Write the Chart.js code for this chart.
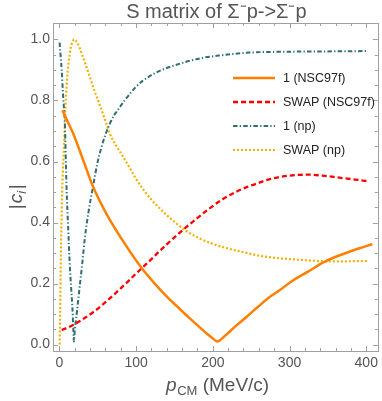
<!DOCTYPE html>
<html><head><meta charset="utf-8">
<script src="https://cdn.jsdelivr.net/npm/chart.js@4.4.1/dist/chart.umd.min.js"></script>
<style>html,body{margin:0;padding:0;background:#fff;}#wrap{width:382px;height:401px;position:relative}</style>
</head><body><div id="wrap"><canvas id="c" width="382" height="401"></canvas></div>
<script>
const titleText = 'S matrix of \u03A3\u207Bp->\u03A3\u207Bp';
const xTickValues = [0, 100, 200, 300, 400];
const yTickValues = [0, 0.2, 0.4, 0.6, 0.8, 1.0];
const seriesLabels = ['1 (NSC97f)', 'SWAP (NSC97f)', '1 (np)', 'SWAP (np)'];

const xOneNSC = [4, 10, 18, 31, 44, 61, 82, 106, 126, 143, 156, 170, 182, 194, 200, 204, 206, 208, 212, 220, 229, 245, 259, 272, 287, 302, 324, 346, 370, 390, 408];
const yOneNSC = [0.768, 0.735, 0.692, 0.605, 0.517, 0.430, 0.343, 0.255, 0.195, 0.150, 0.119, 0.086, 0.059, 0.032, 0.020, 0.012, 0.010, 0.012, 0.020, 0.038, 0.059, 0.093, 0.124, 0.152, 0.178, 0.206, 0.239, 0.272, 0.297, 0.315, 0.329];

const xSwapNSC = [3, 12, 22, 33, 44, 55, 65, 76, 87, 98, 109, 120, 130, 141, 153, 165, 180, 195, 212, 229, 245, 260, 270, 285, 300, 311, 325, 346, 365, 385, 404];
const ySwapNSC = [0.048, 0.057, 0.070, 0.087, 0.106, 0.128, 0.150, 0.175, 0.201, 0.228, 0.254, 0.280, 0.305, 0.331, 0.358, 0.384, 0.415, 0.445, 0.475, 0.499, 0.517, 0.530, 0.539, 0.548, 0.554, 0.556, 0.557, 0.553, 0.547, 0.541, 0.535];

const xOneNp = [0.3, 1.5, 3, 5, 7.2, 9.3, 11.5, 13.6, 15.5, 17, 18.2, 18.9, 20, 23, 26.5, 30, 33, 38, 44, 50, 55, 60, 65, 71, 76, 85, 100, 109, 128, 150, 183, 210, 248, 300, 350, 402];
const yOneNp = [0.99, 0.95, 0.90, 0.81, 0.72, 0.52, 0.38, 0.26, 0.18, 0.12, 0.05, 0.01, 0.045, 0.11, 0.19, 0.27, 0.345, 0.435, 0.52, 0.60, 0.648, 0.688, 0.72, 0.75, 0.768, 0.80, 0.845, 0.865, 0.894, 0.915, 0.938, 0.948, 0.957, 0.960, 0.961, 0.962];

const xSwapNp = [0.3, 1, 2, 3, 4, 6, 8, 10, 13.6, 16, 19.5, 22, 26, 30, 35, 40, 46, 52, 59, 66, 74, 83, 92, 100, 110, 121, 131, 141, 153, 165, 182, 199, 218, 238, 259, 272, 287, 302, 325, 346, 370, 403];
const ySwapNp = [0.0, 0.1, 0.3, 0.43, 0.53, 0.645, 0.78, 0.87, 0.954, 0.985, 1.0, 0.994, 0.975, 0.948, 0.912, 0.875, 0.83, 0.79, 0.741, 0.69, 0.652, 0.616, 0.578, 0.543, 0.506, 0.472, 0.446, 0.422, 0.396, 0.373, 0.349, 0.331, 0.316, 0.304, 0.292, 0.287, 0.283, 0.280, 0.276, 0.273, 0.273, 0.274];

function pts(xs, ys) { return xs.map((x, i) => ({x: x, y: ys[i]})); }

const FONT = '"Liberation Sans", Arial, sans-serif';

const framePlugin = {
  id: 'frame',
  afterDraw(chart) {
    const ctx = chart.ctx;
    const a = chart.chartArea;
    const xs = chart.scales.x, ys = chart.scales.y;
    ctx.save();
    ctx.strokeStyle = '#a0a0a0';
    ctx.lineWidth = 1;
    ctx.setLineDash([]);
    ctx.strokeRect(Math.round(a.left) + 0.5, Math.round(a.top) + 0.5, Math.round(a.right - a.left), Math.round(a.bottom - a.top));
    ctx.beginPath();
    for (let v = 0; v <= 400.001; v += 20) {
      const px = Math.round(xs.getPixelForValue(v)) + 0.5;
      const L = (Math.abs(v % 100) < 0.01) ? 5 : 3;
      ctx.moveTo(px, a.bottom); ctx.lineTo(px, a.bottom - L);
      ctx.moveTo(px, a.top); ctx.lineTo(px, a.top + L);
    }
    for (let k = 0; k <= 20; k++) {
      const v = k * 0.05;
      const py = Math.round(ys.getPixelForValue(v)) + 0.5;
      const L = (k % 4 === 0) ? 5 : 3;
      ctx.moveTo(a.left, py); ctx.lineTo(a.left + L, py);
      ctx.moveTo(a.right, py); ctx.lineTo(a.right - L, py);
    }
    ctx.stroke();

    ctx.fillStyle = '#555';
    ctx.font = '20px ' + FONT;
    ctx.textAlign = 'center';
    ctx.textBaseline = 'alphabetic';
    ctx.fillText(titleText, (a.left + a.right) / 2 + 1, 18);

    ctx.textAlign = 'left';
    const xMain = 'p', xSub = 'CM', xRest = ' (MeV/c)';
    ctx.font = 'italic 19px ' + FONT;
    const w1 = ctx.measureText(xMain).width;
    ctx.font = '13px ' + FONT;
    const w2 = ctx.measureText(xSub).width;
    ctx.font = '19px ' + FONT;
    const w3 = ctx.measureText(xRest).width;
    let sx = (a.left + a.right) / 2 + 2 - (w1 + w2 + w3) / 2;
    const by = 391;
    ctx.font = 'italic 19px ' + FONT; ctx.fillText(xMain, sx, by); sx += w1 + 0.5;
    ctx.font = '13px ' + FONT; ctx.fillText(xSub, sx, by + 4); sx += w2;
    ctx.font = '19px ' + FONT; ctx.fillText(xRest, sx, by);

    ctx.save();
    ctx.translate(22, (a.top + a.bottom) / 2 + 10);
    ctx.rotate(-Math.PI / 2);
    const p1 = '|', p2 = 'c', p3 = 'i', p4 = '|';
    ctx.font = '19px ' + FONT; const q1 = ctx.measureText(p1).width;
    ctx.font = 'italic 19px ' + FONT; const q2 = ctx.measureText(p2).width;
    ctx.font = 'italic 13px ' + FONT; const q3 = ctx.measureText(p3).width;
    let tx = -(q1 * 2 + q2 + q3 + 2) / 2;
    ctx.font = '19px ' + FONT; ctx.fillText(p1, tx, 0); tx += q1 + 1;
    ctx.font = 'italic 19px ' + FONT; ctx.fillText(p2, tx, 0); tx += q2;
    ctx.font = 'italic 13px ' + FONT; ctx.fillText(p3, tx, 4); tx += q3 + 1.5;
    ctx.font = '19px ' + FONT; ctx.fillText(p4, tx, 0);
    ctx.restore();

    const lx0 = 233, lx1 = 275, tx0 = 283, ly0 = 78, dy = 24;
    chart.data.datasets.forEach((ds, i) => {
      const y = ly0 + i * dy;
      ctx.strokeStyle = ds.borderColor;
      ctx.lineWidth = ds.borderWidth;
      ctx.setLineDash(ds.borderDash || []);
      ctx.beginPath(); ctx.moveTo(lx0, y); ctx.lineTo(lx1, y); ctx.stroke();
      ctx.setLineDash([]);
      ctx.fillStyle = '#222';
      ctx.font = '12.5px ' + FONT;
      ctx.textAlign = 'left';
      ctx.textBaseline = 'middle';
      ctx.fillText(ds.label, tx0, y + 1);
    });
    ctx.restore();
  }
};

const common = {pointRadius: 0, fill: false, cubicInterpolationMode: 'monotone'};

new Chart(document.getElementById('c'), {
  type: 'line',
  data: {
    datasets: [
      Object.assign({label: seriesLabels[0], data: pts(xOneNSC, yOneNSC), borderColor: '#ff8000', borderWidth: 2.5}, common),
      Object.assign({label: seriesLabels[1], data: pts(xSwapNSC, ySwapNSC), borderColor: '#ff0000', borderWidth: 2.3, borderDash: [5, 3]}, common),
      Object.assign({label: seriesLabels[2], data: pts(xOneNp, yOneNp), borderColor: '#2f6f70', borderWidth: 2, borderDash: [4.5, 2.2, 1.3, 2.2]}, common),
      Object.assign({label: seriesLabels[3], data: pts(xSwapNp, ySwapNp), borderColor: '#f2b000', borderWidth: 2.2, borderDash: [2, 2]}, common)
    ]
  },
  options: {
    responsive: false,
    animation: false,
    devicePixelRatio: 1,
    layout: {padding: {top: 23, right: 2, left: 0, bottom: 0}},
    plugins: {legend: {display: false}, title: {display: false}, tooltip: {enabled: false}},
    scales: {
      x: {
        type: 'linear', min: -8.3, max: 415,
        afterFit(s) { s.height = 50; },
        grid: {display: false, drawTicks: false},
        border: {display: false},
        afterBuildTicks(s) { s.ticks = xTickValues.map(v => ({value: v})); },
        ticks: {color: '#555', font: {family: FONT, size: 14}, padding: 4, maxRotation: 0, autoSkip: false,
          callback: v => String(v)}
      },
      y: {
        type: 'linear', min: -0.021, max: 1.054,
        afterFit(s) { s.width = 53; },
        grid: {display: false, drawTicks: false},
        border: {display: false},
        afterBuildTicks(s) { s.ticks = yTickValues.map(v => ({value: v})); },
        ticks: {color: '#555', font: {family: FONT, size: 14}, padding: 3, autoSkip: false,
          callback: v => Number(v).toFixed(1)}
      }
    }
  },
  plugins: [framePlugin]
});
</script>
</body></html>
